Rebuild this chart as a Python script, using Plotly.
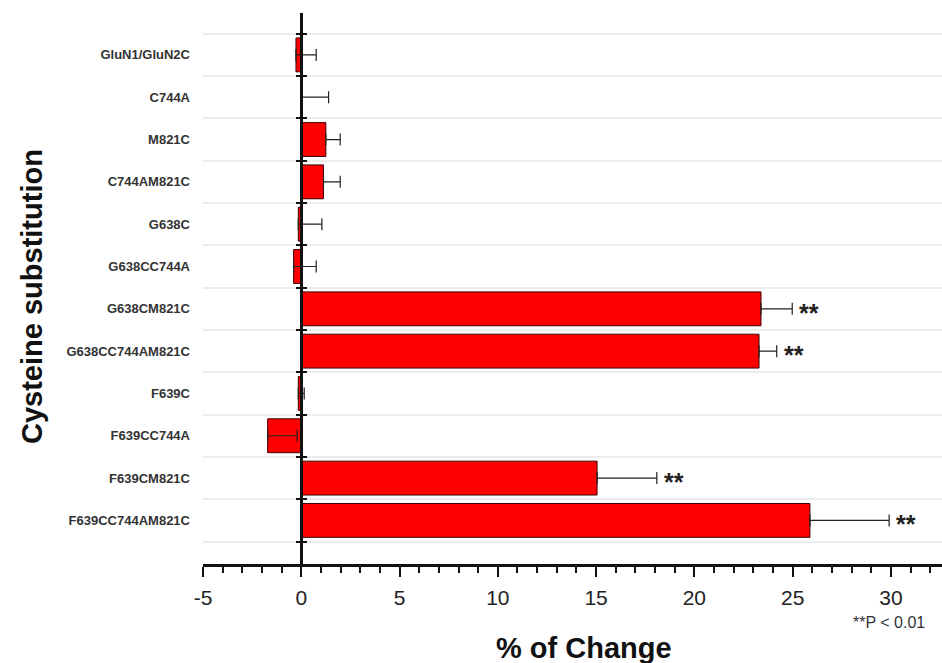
import plotly.graph_objects as go

categories = ["GluN1/GluN2C", "C744A", "M821C", "C744AM821C", "G638C", "G638CC744A",
              "G638CM821C", "G638CC744AM821C", "F639C", "F639CC744A", "F639CM821C",
              "F639CC744AM821C"]
values = [-0.27, 0.02, 1.25, 1.13, -0.15, -0.39, 23.39, 23.29, -0.15, -1.71, 15.05, 25.88]
errors = [1.03, 1.37, 0.73, 0.85, 1.20, 1.15, 1.59, 0.90, 0.30, 1.50, 3.04, 4.03]
significance = ["", "", "", "", "", "", "**", "**", "", "", "**", "**"]
x_ticks = [-5, 0, 5, 10, 15, 20, 25, 30]

idx = list(range(len(categories)))
bounds = [i - 0.5 for i in range(len(categories) + 1)]
x_range = [-5, 32.6]
y_range = [len(categories) + 0.03, -0.99]
zero_pos = (0 - x_range[0]) / (x_range[1] - x_range[0])

fig = go.Figure()
fig.add_trace(go.Bar(
    x=values, y=idx, orientation="h", width=0.8,
    marker=dict(color="#ff0000", line=dict(color="#3a0000", width=1)),
    error_x=dict(type="data", array=errors, arrayminus=[0] * len(errors), symmetric=False,
                 color="#222222", thickness=1.2, width=6),
    showlegend=False, hoverinfo="skip",
))
# invisible helpers so that the overlaid axes (zero line with boundary ticks) are drawn
for ax in ["y2", "y3"]:
    fig.add_trace(go.Scatter(x=[0, 0], y=[bounds[0], bounds[-1]], yaxis=ax, mode="markers",
                             marker=dict(opacity=0), showlegend=False, hoverinfo="skip"))

annotations = []
for i, (v, e, s) in enumerate(zip(values, errors, significance)):
    if s:
        annotations.append(dict(x=v + e, y=i, xref="x", yref="y", text="<b>" + s + "</b>", showarrow=False,
                                xanchor="left", yanchor="middle", xshift=5, yshift=-4,
                                font=dict(family="Liberation Sans, Arial", size=25, color="#222222")))

annotations += [
    dict(x=0.5149, y=-0.152, xref="paper", yref="paper", text="<b>% of Change</b>", showarrow=False,
         xanchor="center", yanchor="middle", font=dict(family="Liberation Sans, Arial", size=29, color="#111111")),
    dict(x=-0.2314, y=0.4864, xref="paper", yref="paper", text="<b>Cysteine substitution</b>",
         showarrow=False, textangle=-90, xanchor="center", yanchor="middle",
         font=dict(family="Liberation Sans, Arial", size=29, color="#111111")),
    dict(x=0.9797, y=-0.107, xref="paper", yref="paper", text="**P < 0.01", showarrow=False,
         xanchor="right", yanchor="middle", font=dict(family="Liberation Sans, Arial", size=16, color="#333333")),
]

fig.update_layout(
    width=942, height=663,
    margin=dict(l=203, r=0, t=13, b=99),
    paper_bgcolor="white", plot_bgcolor="white",
    xaxis=dict(range=x_range, tickvals=x_ticks, ticktext=[str(t) for t in x_ticks],
               ticks="outside", ticklen=10, tickwidth=2,
               tickcolor="#111111", showline=True, linewidth=2.5, linecolor="#111111",
               showgrid=False, zeroline=False,
               minor=dict(dtick=1, tick0=0, ticks="outside", ticklen=6, tickwidth=1.5, tickcolor="#111111"),
               tickfont=dict(family="Liberation Sans, Arial", size=21, color="#222222"),
               ticklabelstandoff=3),
    yaxis=dict(range=y_range, tickvals=idx, ticktext=categories, ticks="", showline=False,
               showgrid=False, zeroline=False, ticklabelstandoff=12,
               tickfont=dict(family="Liberation Sans, Arial", size=13, color="#333333", weight="bold")),
    yaxis2=dict(range=y_range, overlaying="y", anchor="free", position=zero_pos, side="left",
                tickvals=bounds, showticklabels=False, ticks="outside", ticklen=5, tickwidth=2,
                tickcolor="#111111", showline=True, linewidth=2.5, linecolor="#111111",
                showgrid=True, gridcolor="#ececec", gridwidth=1.5, zeroline=False),
    yaxis3=dict(range=y_range, overlaying="y", anchor="free", position=zero_pos, side="left",
                tickvals=bounds, showticklabels=False, ticks="inside", ticklen=5, tickwidth=2,
                tickcolor="#111111", showline=False, showgrid=False, zeroline=False),
    annotations=annotations,
)

fig.write_html("out.html")
